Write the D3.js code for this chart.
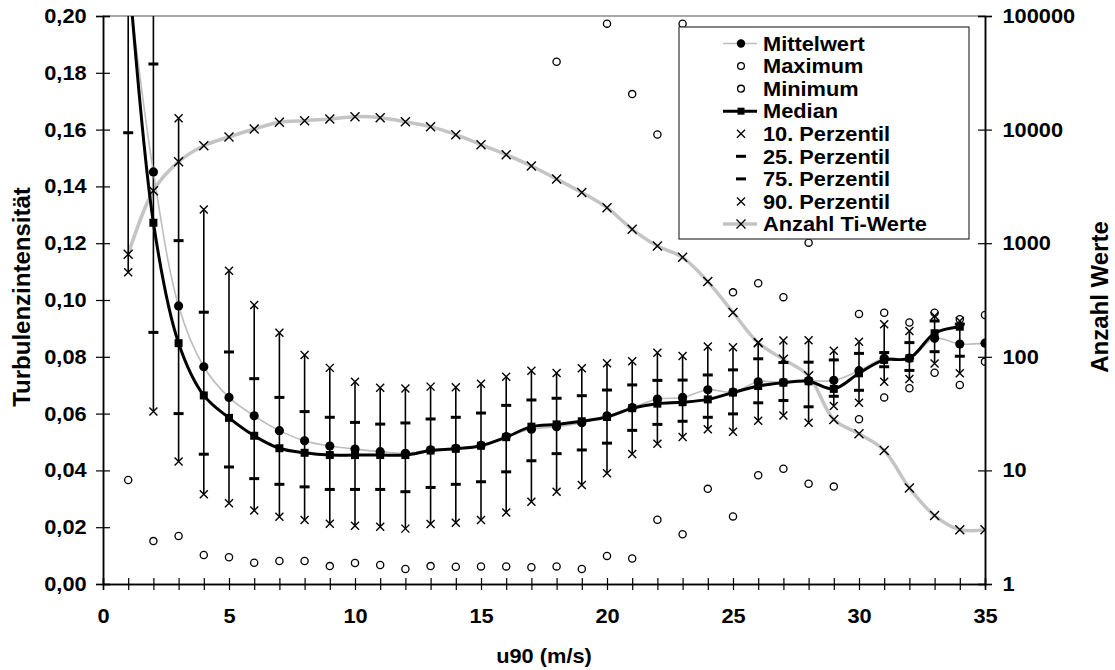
<!DOCTYPE html>
<html>
<head>
<meta charset="utf-8">
<script src="https://d3js.org/d3.v7.min.js"></script>
<style>
  body { margin: 0; background: #fff; }
  text { font-family: "Liberation Sans", Arial, Helvetica, sans-serif; font-weight: bold; }
</style>
</head>
<body>
<div id="chart"></div>
<script>
// u90 classes (m/s)
var u90 = d3.range(1, 36);

// Turbulenzintensität statistics per class (values above 0,20 are clipped)
var mittelwert = [0.212, 0.1451, 0.0979, 0.0765, 0.0657, 0.0592, 0.054, 0.0504, 0.0486, 0.0475,
  0.0466, 0.046, 0.0472, 0.0478, 0.0488, 0.0519, 0.0545, 0.0554, 0.0568, 0.0592,
  0.0621, 0.0651, 0.0657, 0.0684, 0.0676, 0.0712, 0.071, 0.0715, 0.0717, 0.0751,
  0.0795, 0.0795, 0.0865, 0.0845, 0.0848];
var median = [0.218, 0.1272, 0.0848, 0.0664, 0.0585, 0.0522, 0.0478, 0.0462, 0.0454, 0.0454,
  0.0454, 0.0454, 0.047, 0.0476, 0.0487, 0.0517, 0.0554, 0.0562, 0.0573, 0.0588,
  0.0619, 0.0635, 0.064, 0.065, 0.0674, 0.0697, 0.0709, 0.0714, 0.0687, 0.0742,
  0.0789, 0.0795, 0.0883, 0.0906, null];
var maximum = [null, null, null, null, null, null, null, null, null, null,
  null, null, null, null, null, null, null, 0.1839, null, 0.1973,
  0.1725, 0.1583, 0.1973, null, 0.1027, 0.1059, 0.101, 0.1202, null, 0.0951,
  0.0955, 0.0921, 0.0955, 0.0932, 0.0947];
var minimum = [0.0366, 0.0151, 0.0169, 0.0102, 0.0094, 0.0075, 0.0081, 0.0081, 0.0063, 0.0074,
  0.0067, 0.0053, 0.0063, 0.0061, 0.0062, 0.0062, 0.0059, 0.0062, 0.0053, 0.0099,
  0.009, 0.0226, 0.0175, 0.0335, 0.0238, 0.0383, 0.0406, 0.0353, 0.0343, 0.058,
  0.0657, 0.0689, 0.0744, 0.0701, 0.0783];
var p10 = [0.1098, 0.0607, 0.0431, 0.0316, 0.0284, 0.0259, 0.0237, 0.0225, 0.0212, 0.0205,
  0.0202, 0.0195, 0.0211, 0.0216, 0.0225, 0.0252, 0.029, 0.0325, 0.0349, 0.039,
  0.0458, 0.0494, 0.0518, 0.0545, 0.0536, 0.0575, 0.0593, 0.0568, 0.0627, 0.0638,
  0.0712, 0.0722, 0.0776, 0.0742, null];
var p25 = [0.1589, 0.0886, 0.06, 0.0457, 0.0412, 0.0371, 0.0351, 0.0342, 0.0333, 0.0333,
  0.0333, 0.0325, 0.034, 0.0351, 0.036, 0.0395, 0.0434, 0.0459, 0.0472, 0.0496,
  0.0541, 0.0562, 0.0573, 0.0587, 0.0599, 0.0638, 0.0646, 0.0624, 0.0661, 0.0682,
  0.0765, 0.0752, 0.0818, 0.0802, null];
var p75 = [0.21, 0.1831, 0.1209, 0.0957, 0.0817, 0.0723, 0.0657, 0.0607, 0.0587, 0.0569,
  0.0563, 0.0567, 0.0581, 0.0587, 0.0602, 0.0629, 0.0648, 0.0654, 0.0663, 0.0683,
  0.0701, 0.0717, 0.0718, 0.0736, 0.0754, 0.0793, 0.078, 0.0781, 0.0789, 0.0812,
  0.0815, 0.085, 0.0926, 0.0915, null];
var p90 = [0.26, 0.22, 0.164, 0.1319, 0.1103, 0.0982, 0.0885, 0.0806, 0.0761, 0.0712,
  0.0691, 0.0688, 0.0695, 0.0693, 0.0705, 0.073, 0.0751, 0.0743, 0.076, 0.0777,
  0.0784, 0.0814, 0.0803, 0.0836, 0.0834, 0.085, 0.0857, 0.0858, 0.0821, 0.0853,
  0.0915, 0.0891, 0.0944, 0.0926, null];

// number of Ti values per class (right log axis)
var anzahl = [798, 2898, 5220, 7215, 8610, 10120, 11590, 11990, 12390, 13000,
  12730, 11740, 10610, 9020, 7370, 6010, 4780, 3670, 2790, 2055,
  1325, 945, 751, 459, 246, 133, 95, 68, 28, 21,
  15, 7, 4, 3, 3];

var xTicks = d3.range(0, 36);
var yTicks = d3.range(0, 11).map(function(i) { return i * 0.02; });
var y2Ticks = [1, 10, 100, 1000, 10000, 100000];

var legendItems = ["Mittelwert", "Maximum", "Minimum", "Median", "10. Perzentil",
  "25. Perzentil", "75. Perzentil", "90. Perzentil", "Anzahl Ti-Werte"];

var svgWidth = 1115;
var svgHeight = 670;
var margin = { top: 16, right: 130, bottom: 86, left: 103 };
var width = svgWidth - margin.left - margin.right;
var height = svgHeight - margin.top - margin.bottom;
// the reference text is drawn slightly wide
var stretch = "scale(1.09,1)";

var svg = d3.select("#chart").append("svg")
  .attr("width", svgWidth)
  .attr("height", svgHeight);

var chartGroup = svg.append("g")
  .attr("transform", `translate(${margin.left}, ${margin.top})`);

var xScale = d3.scaleLinear().domain([0, 35]).range([0, width]);
var yScale = d3.scaleLinear().domain([0, 0.2]).range([height, 0]);
var y2Scale = d3.scaleLog().domain([1, 100000]).range([height, 0]);

chartGroup.append("clipPath").attr("id", "plotClip")
  .append("rect").attr("width", width).attr("height", height);

// top border of plot area
chartGroup.append("line")
  .attr("x1", 0).attr("x2", width).attr("y1", 0).attr("y2", 0)
  .attr("stroke", "#8c8c8c").attr("stroke-width", 1.5);

var plot = chartGroup.append("g").attr("clip-path", "url(#plotClip)");

var rows = u90.map(function(u, i) {
  return { u: u, mean: mittelwert[i], med: median[i], max: maximum[i], min: minimum[i],
    p10: p10[i], p25: p25[i], p75: p75[i], p90: p90[i], n: anzahl[i] };
});

// Anzahl line (grey, log axis)
plot.append("path")
  .datum(rows)
  .attr("fill", "none")
  .attr("stroke", "#c4c4c4")
  .attr("stroke-width", 3.5)
  .attr("d", d3.line().curve(d3.curveCatmullRom)
    .x(d => xScale(d.u)).y(d => y2Scale(d.n)));

// whiskers 10. - 90. Perzentil
plot.selectAll(".whisker")
  .data(rows.filter(d => d.p10 !== null))
  .enter().append("line")
  .attr("x1", d => xScale(d.u)).attr("x2", d => xScale(d.u))
  .attr("y1", d => yScale(d.p10)).attr("y2", d => yScale(d.p90))
  .attr("stroke", "#000").attr("stroke-width", 1.6);

// mean line
plot.append("path")
  .datum(rows)
  .attr("fill", "none")
  .attr("stroke", "#bdbdbd")
  .attr("stroke-width", 1.6)
  .attr("d", d3.line().curve(d3.curveCatmullRom)
    .x(d => xScale(d.u)).y(d => yScale(d.mean)));

// median line
plot.append("path")
  .datum(rows.filter(d => d.med !== null))
  .attr("fill", "none")
  .attr("stroke", "#000")
  .attr("stroke-width", 3)
  .attr("d", d3.line().curve(d3.curveCatmullRom)
    .x(d => xScale(d.u)).y(d => yScale(d.med)));

function crossPath(s) {
  return `M${-s},${-s}L${s},${s}M${-s},${s}L${s},${-s}`;
}

// 25. / 75. Perzentil dashes
["p25", "p75"].forEach(function(key) {
  plot.selectAll(".dash-" + key)
    .data(rows.filter(d => d[key] !== null))
    .enter().append("line")
    .attr("x1", d => xScale(d.u) - 5).attr("x2", d => xScale(d.u) + 5)
    .attr("y1", d => yScale(d[key])).attr("y2", d => yScale(d[key]))
    .attr("stroke", "#000").attr("stroke-width", 3);
});

// 10. / 90. Perzentil crosses
["p10", "p90"].forEach(function(key) {
  plot.selectAll(".cross-" + key)
    .data(rows.filter(d => d[key] !== null))
    .enter().append("path")
    .attr("transform", d => `translate(${xScale(d.u)},${yScale(d[key])})`)
    .attr("d", crossPath(4))
    .attr("fill", "none").attr("stroke", "#000").attr("stroke-width", 1.4);
});

// Anzahl markers
plot.selectAll(".cross-n")
  .data(rows)
  .enter().append("path")
  .attr("transform", d => `translate(${xScale(d.u)},${y2Scale(d.n)})`)
  .attr("d", crossPath(4.5))
  .attr("fill", "none").attr("stroke", "#000").attr("stroke-width", 1.4);

// Maximum / Minimum open circles
["max", "min"].forEach(function(key) {
  plot.selectAll(".circ-" + key)
    .data(rows.filter(d => d[key] !== null))
    .enter().append("circle")
    .attr("cx", d => xScale(d.u)).attr("cy", d => yScale(d[key]))
    .attr("r", 3.6)
    .attr("fill", "none").attr("stroke", "#000").attr("stroke-width", 1.3);
});

// mean markers
plot.selectAll(".mean-dot")
  .data(rows)
  .enter().append("circle")
  .attr("cx", d => xScale(d.u)).attr("cy", d => yScale(d.mean))
  .attr("r", 4.6).attr("fill", "#000");

// median markers
plot.selectAll(".med-sq")
  .data(rows.filter(d => d.med !== null))
  .enter().append("rect")
  .attr("x", d => xScale(d.u) - 4).attr("y", d => yScale(d.med) - 4)
  .attr("width", 8).attr("height", 8).attr("fill", "#000");

// axes (crossing ticks)
var fmtComma = d => d.toFixed(2).replace(".", ",");

chartGroup.append("g")
  .attr("transform", `translate(0, ${height})`)
  .call(d3.axisBottom(xScale).tickValues(xTicks).tickSize(6).tickPadding(19)
    .tickFormat(d => d % 5 === 0 ? d : ""));
chartGroup.append("g")
  .attr("transform", `translate(0, ${height})`)
  .call(d3.axisBottom(xScale).tickValues(xTicks).tickSize(-6).tickFormat(""));

chartGroup.append("g")
  .call(d3.axisLeft(yScale).tickValues(yTicks).tickSize(7).tickPadding(8).tickFormat(fmtComma));
chartGroup.append("g")
  .call(d3.axisLeft(yScale).tickValues(yTicks).tickSize(-7).tickFormat(""));

chartGroup.append("g")
  .attr("transform", `translate(${width}, 0)`)
  .call(d3.axisRight(y2Scale).tickValues(y2Ticks).tickSize(7).tickPadding(9)
    .tickFormat(d3.format("d")));
chartGroup.append("g")
  .attr("transform", `translate(${width}, 0)`)
  .call(d3.axisRight(y2Scale).tickValues(y2Ticks).tickSize(-7).tickFormat(""));

chartGroup.selectAll(".domain").attr("stroke", "#000").attr("stroke-width", 1.5);
chartGroup.selectAll(".tick line").attr("stroke", "#000").attr("stroke-width", 1.2);
chartGroup.selectAll(".tick text")
  .attr("font-family", "'Liberation Sans', Arial, sans-serif")
  .attr("font-weight", "bold")
  .attr("font-size", 20)
  .attr("fill", "#000")
  .attr("transform", stretch);

// axis titles
svg.append("text")
  .attr("transform", `translate(${margin.left + width / 2}, 663) ${stretch}`)
  .attr("text-anchor", "middle").attr("font-size", 20)
  .text("u90 (m/s)");

svg.append("text")
  .attr("transform", `translate(30, 297) rotate(-90)`)
  .attr("text-anchor", "middle").attr("font-size", 24)
  .text("Turbulenzintensität");

svg.append("text")
  .attr("transform", `translate(1108, 297) rotate(-90)`)
  .attr("text-anchor", "middle").attr("font-size", 24)
  .text("Anzahl Werte");

// legend
var legend = svg.append("g").attr("transform", "translate(679, 27)");
legend.append("rect")
  .attr("width", 290).attr("height", 212)
  .attr("fill", "#fff").attr("stroke", "#333").attr("stroke-width", 1.2);

var legRow = d3.scaleLinear().domain([0, 8]).range([16.5, 197]);
var symX = 62;

legendItems.forEach(function(name, i) {
  var g = legend.append("g").attr("transform", `translate(0, ${legRow(i)})`);
  if (i === 0) {
    g.append("line").attr("x1", symX - 18).attr("x2", symX + 16)
      .attr("stroke", "#bdbdbd").attr("stroke-width", 1.6);
    g.append("circle").attr("cx", symX).attr("r", 4.2).attr("fill", "#000");
  } else if (i === 1 || i === 2) {
    g.append("circle").attr("cx", symX).attr("r", 3.4)
      .attr("fill", "none").attr("stroke", "#000").attr("stroke-width", 1.3);
  } else if (i === 3) {
    g.append("line").attr("x1", symX - 18).attr("x2", symX + 16)
      .attr("stroke", "#000").attr("stroke-width", 3);
    g.append("rect").attr("x", symX - 3.5).attr("y", -3.5)
      .attr("width", 7).attr("height", 7).attr("fill", "#000");
  } else if (i === 4 || i === 7) {
    g.append("path").attr("transform", `translate(${symX},0)`)
      .attr("d", crossPath(4)).attr("stroke", "#000").attr("stroke-width", 1.3);
  } else if (i === 5 || i === 6) {
    g.append("line").attr("x1", symX - 5).attr("x2", symX + 5)
      .attr("stroke", "#000").attr("stroke-width", 3);
  } else {
    g.append("line").attr("x1", symX - 18).attr("x2", symX + 16)
      .attr("stroke", "#c4c4c4").attr("stroke-width", 3.5);
    g.append("path").attr("transform", `translate(${symX},0)`)
      .attr("d", crossPath(4.5)).attr("stroke", "#000").attr("stroke-width", 1.3);
  }
  g.append("text")
    .attr("transform", `translate(84, 0) ${stretch}`)
    .attr("dy", "0.36em")
    .attr("font-size", 20)
    .text(name);
});
</script>
</body>
</html>
